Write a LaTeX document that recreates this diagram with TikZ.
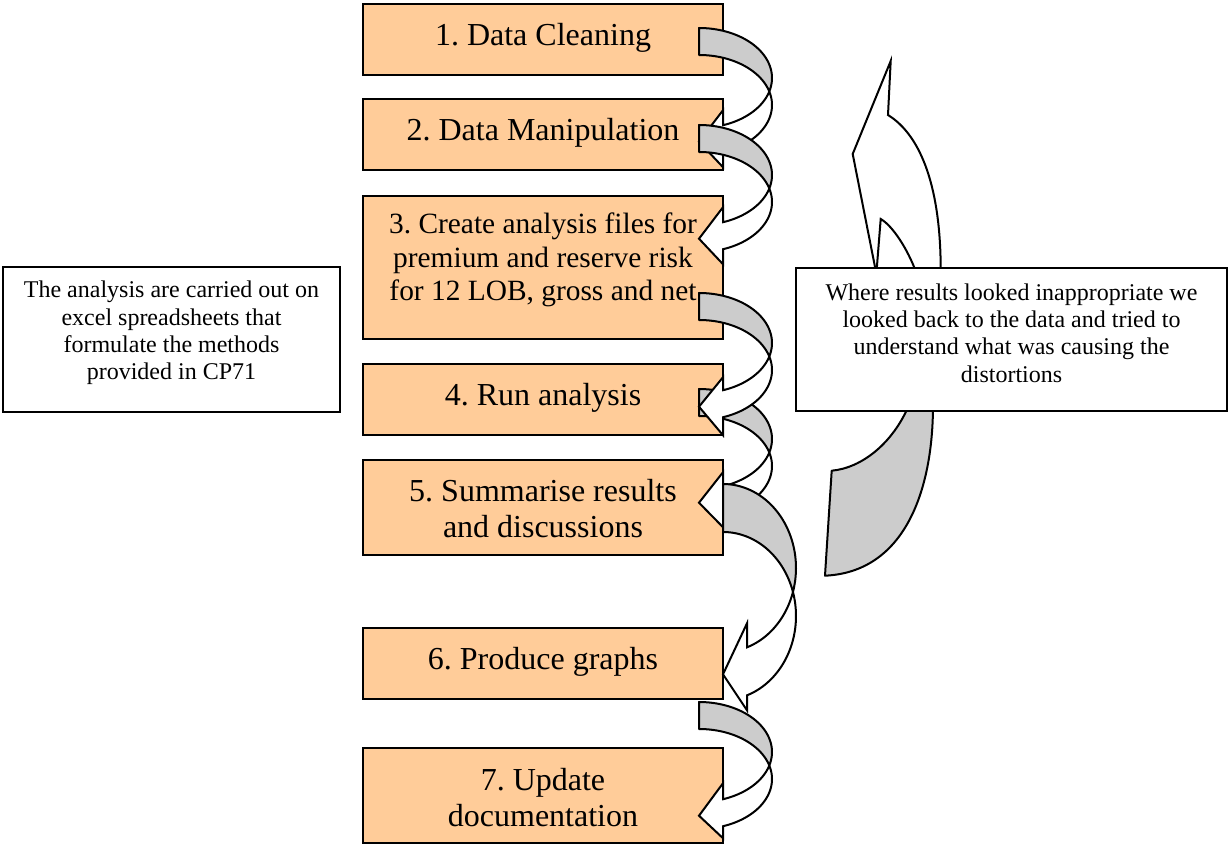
\documentclass[tikz,border=0pt]{standalone}
\usepackage{fontspec}
\setmainfont{Liberation Serif}
\frenchspacing
\definecolor{boxorange}{HTML}{FFCC99}
\definecolor{arrgray}{HTML}{CCCCCC}
\tikzset{
  stepbox/.style={draw=black, line width=1pt, fill=boxorange, inner sep=0pt, minimum width=180pt},
  notebox/.style={draw=black, line width=1pt, fill=white, inner sep=0pt},
  arrback/.style={draw=black, line width=1pt, fill=arrgray, line join=round},
  arrfront/.style={draw=black, line width=1pt, fill=white, line join=miter},
  bigtxt/.style={font=\fontsize{16}{18}\selectfont, align=center, inner sep=0pt},
  midtxt/.style={font=\fontsize{14.7}{16.75}\selectfont, align=center, inner sep=0pt},
  smalltxt/.style={font=\fontsize{12}{13.6}\selectfont, align=center, inner sep=0pt},
}
% curved left arrow: #1 left x, #2 top y, #3 band width, #4 x radius, #5 y radius,
% #6 head length, #7 upper barb extension, #8 lower barb extension
\newcommand{\curvarr}[8]{%
  \pgfmathsetmacro\caA{#2+#5}%
  \pgfmathsetmacro\caB{\caA+#3}%
  \pgfmathsetmacro\caTh{asin(#3/(2*#5))}%
  \pgfmathsetmacro\caPh{acos(#6/#4)}%
  \pgfmathsetmacro\caXh{#1+#6}%
  \pgfmathsetmacro\caYA{\caA+#5*sin(\caPh)}%
  \pgfmathsetmacro\caYB{\caB+#5*sin(\caPh)}%
  \pgfmathsetmacro\caYM{(\caYA+\caYB)/2+3}%
  \pgfmathsetmacro\caYT{\caYA-#7}%
  \pgfmathsetmacro\caYL{\caYB+#8}%
  \filldraw[arrback] plot[domain=-90:\caTh, samples=40] ({#1+#4*cos(\x)},{\caA+#5*sin(\x)})
     -- plot[domain=-\caTh:-90, samples=40] ({#1+#4*cos(\x)},{\caB+#5*sin(\x)}) -- cycle;
  \filldraw[arrfront] plot[domain=\caTh:\caPh, samples=40] ({#1+#4*cos(\x)},{\caA+#5*sin(\x)})
     -- (\caXh,\caYT) -- (#1,\caYM) -- (\caXh,\caYL)
     -- plot[domain=\caPh:-\caTh, samples=40] ({#1+#4*cos(\x)},{\caB+#5*sin(\x)}) -- cycle;
}
\begin{document}
\begin{tikzpicture}[x=0.5pt, y=-0.5pt]
\useasboundingbox (0,0) rectangle (1228,845);
\fill[white] (0,0) rectangle (1228,845);

% big feedback arrow behind the right note box
\filldraw[arrfront] (876,272) -- (852.7,154) -- (890.7,61) -- (888,115)
   .. controls (922,136) and (941,190) .. (940.7,272) -- cycle;
\draw[line width=1pt] (876.5,272) -- (880.7,219) .. controls (893,226) and (908,250) .. (916,272);
\filldraw[arrback] (825,575.7) -- (831.7,470.7) .. controls (862,468) and (893,443) .. (909,405)
   -- (933,405) .. controls (933,490) and (905,572) .. (825,575.7) -- cycle;

% step boxes
\node[stepbox, minimum height=35.5pt] (b1) at (543,39.5) {};
\node[stepbox, minimum height=35.5pt] (b2) at (543,134.5) {};
\node[stepbox, minimum height=71.75pt] (b3) at (543,267.75) {};
\node[stepbox, minimum height=35.5pt] (b4) at (543,399.5) {};
\node[stepbox, minimum height=47.5pt] (b5) at (543,507.5) {};
\node[stepbox, minimum height=35.5pt] (b6) at (543,663.5) {};
\node[stepbox, minimum height=47.5pt] (b7) at (543,795.5) {};

% curved arrows
\curvarr{699}{28}{27}{73}{50}{24}{15}{15}
\curvarr{699}{125}{27}{73}{50}{24}{15}{15}
\curvarr{699}{389}{27}{73}{50}{24}{14}{14}
\curvarr{699}{293}{27}{73}{50}{24}{13}{18}
\curvarr{699}{702}{27}{73}{50}{24}{16}{12}
\curvarr{723}{484}{48}{73}{84}{24}{24}{15}

% note boxes
\node[notebox, minimum width=168.5pt, minimum height=72.5pt] (nl) at (171.5,339.5) {};
\node[notebox, minimum width=215.5pt, minimum height=71.5pt] (nr) at (1011.5,339.5) {};

% texts
\node[bigtxt] (t1) at (543,38) {1. Data Cleaning};
\node[bigtxt] (t2) at (543,133) {2. Data Manipulation};
\node[midtxt] (t3) at (543,260) {3. Create analysis files for\\premium and reserve risk\\for 12 LOB, gross and net};
\node[bigtxt] (t4) at (543,398) {4. Run analysis};
\node[bigtxt] (t5) at (543,509) {5. Summarise results\\and discussions};
\node[bigtxt] (t6) at (543,662) {6. Produce graphs};
\node[bigtxt] (t7) at (543,797.5) {7. Update\\documentation};
\node[smalltxt] (tl) at (171.5,333) {The analysis are carried out on\\excel spreadsheets that\\formulate the methods\\provided in CP71};
\node[smalltxt] (tr) at (1011.5,333) {Where results looked inappropriate we\\looked back to the data and tried to\\understand what was causing the\\distortions};
\end{tikzpicture}
\end{document}
